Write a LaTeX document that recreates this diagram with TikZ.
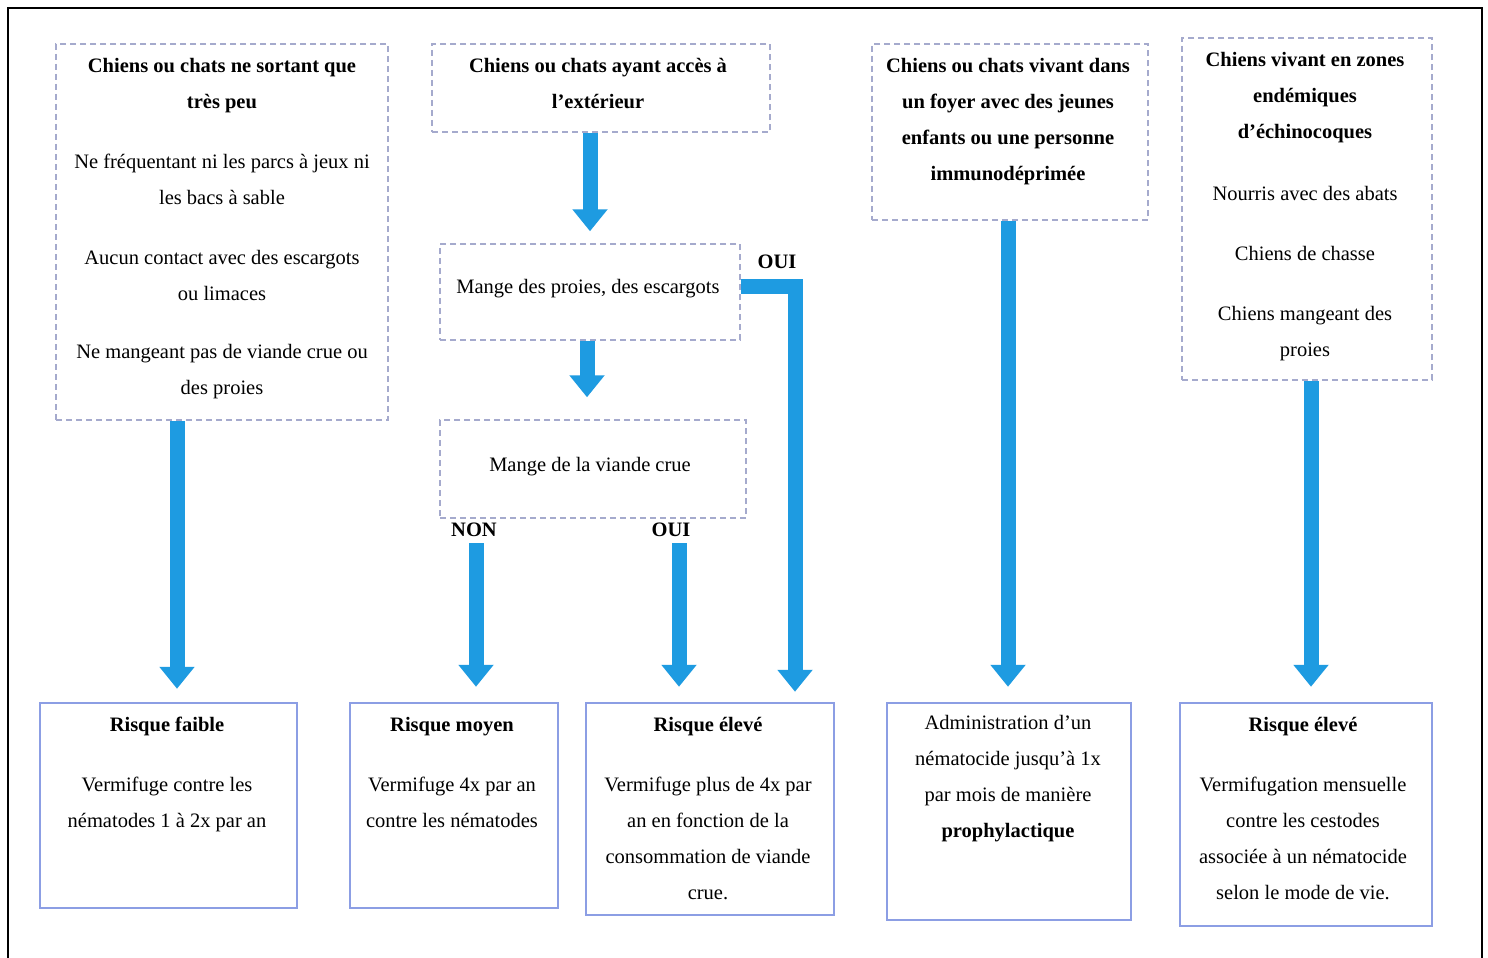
\documentclass[tikz,border=0pt]{standalone}
\usepackage{fontspec}
\setmainfont{Liberation Serif}
\usetikzlibrary{arrows.meta,calc}
\definecolor{arrowblue}{RGB}{30,155,225}
\definecolor{dashgrey}{RGB}{165,170,205}
\definecolor{boxblue}{RGB}{140,158,228}
\tikzset{
  dbox/.style={draw=dashgrey, line width=1.5pt, dash pattern=on 6pt off 4pt, inner sep=0pt},
  sbox/.style={draw=boxblue, line width=2.5pt, inner sep=0pt},
  txt/.style={align=center, inner sep=0pt, anchor=north, font=\fontsize{20.5}{36}\selectfont},
  lbl/.style={inner sep=0pt, font=\fontsize{20.5}{24}\selectfont\bfseries},
  bigarrow/.style={draw=arrowblue, line width=15pt, line join=miter, -{Triangle[width=34pt,length=22pt]}}
}
\begin{document}
\begin{tikzpicture}[x=1pt,y=-1pt]
\useasboundingbox (0,0) rectangle (1488,958);
\fill[white] (0,0) rectangle (1488,958);
\draw[black, line width=1.6pt] (8,958) -- (8,8) -- (1482,8) -- (1482,958);

% top boxes
\node[dbox, minimum width=332pt, minimum height=376pt] (A) at (222,232) {};
\node[txt] (At) at (222,58) {\textbf{Chiens ou chats ne sortant que}\\\textbf{très peu}\\[24pt]Ne fréquentant ni les parcs à jeux ni\\les bacs à sable\\[24pt]Aucun contact avec des escargots\\ou limaces\\[22pt]Ne mangeant pas de viande crue ou\\des proies};

\node[dbox, minimum width=338pt, minimum height=88pt] (B) at (601,88) {};
\node[txt] (Bt) at (598,58) {\textbf{Chiens ou chats ayant accès à}\\\textbf{l'extérieur}};

\node[dbox, minimum width=300pt, minimum height=96pt] (C) at (590,292) {};
\node[txt] (Ct) at (588,279) {Mange des proies, des escargots};

\node[dbox, minimum width=306pt, minimum height=98pt] (D) at (593,469) {};
\node[txt] (Dt) at (590,457) {Mange de la viande crue};

\node[dbox, minimum width=276pt, minimum height=176pt] (E) at (1010,132) {};
\node[txt] (Et) at (1008,58) {\textbf{Chiens ou chats vivant dans}\\\textbf{un foyer avec des jeunes}\\\textbf{enfants ou une personne}\\\textbf{immunodéprimée}};

\node[dbox, minimum width=250pt, minimum height=342pt] (F) at (1307,209) {};
\node[txt] (Ft) at (1305,52) {\textbf{Chiens vivant en zones}\\\textbf{endémiques}\\\textbf{d'échinocoques}\\[26pt]Nourris avec des abats\\[24pt]Chiens de chasse\\[24pt]Chiens mangeant des\\proies};

% bottom boxes
\node[sbox, minimum width=257pt, minimum height=205pt] (G1) at (168.5,805.5) {};
\node[txt] (G1t) at (167,717) {\textbf{Risque faible}\\[24pt]Vermifuge contre les\\nématodes 1 à 2x par an};

\node[sbox, minimum width=208pt, minimum height=205pt] (G2) at (454,805.5) {};
\node[txt] (G2t) at (452,717) {\textbf{Risque moyen}\\[24pt]Vermifuge 4x par an\\contre les nématodes};

\node[sbox, minimum width=248pt, minimum height=212pt] (G3) at (710,809) {};
\node[txt] (G3t) at (708,717) {\textbf{Risque élevé}\\[24pt]Vermifuge plus de 4x par\\an en fonction de la\\consommation de viande\\crue.};

\node[sbox, minimum width=244pt, minimum height=217pt] (G4) at (1009,811.5) {};
\node[txt] (G4t) at (1008,715) {Administration d'un\\nématocide jusqu'à 1x\\par mois de manière\\\textbf{prophylactique}};

\node[sbox, minimum width=252pt, minimum height=223pt] (G5) at (1306,814.5) {};
\node[txt] (G5t) at (1303,717) {\textbf{Risque élevé}\\[24pt]Vermifugation mensuelle\\contre les cestodes\\associée à un nématocide\\selon le mode de vie.};

% labels
\node[lbl] (oui1) at (777,262) {OUI};
\node[lbl] (non) at (474,530) {NON};
\node[lbl] (oui2) at (671,530) {OUI};

% arrows
\draw[bigarrow, shorten >=13pt] ([xshift=-45pt]A.south) -- ([xshift=-45pt]A.south |- G1.north);
\draw[bigarrow, shorten >=12pt] ([xshift=-11pt]B.south) -- ([xshift=-11pt]B.south |- C.north);
\draw[bigarrow, shorten >=22pt] ([xshift=-3pt]C.south) -- ([xshift=-3pt]C.south |- D.north);
\draw[bigarrow, shorten <=6pt, shorten >=15pt] ([xshift=2pt]non.south) -- ([xshift=2pt]non.south |- G2.north);
\draw[bigarrow, shorten <=6pt, shorten >=15pt] ([xshift=8pt]oui2.south) -- ([xshift=8pt]oui2.south |- G3.north);
\draw[bigarrow, shorten >=10pt] ([yshift=6pt]C.east) -| ([xshift=85pt]G3.north);
\draw[bigarrow, shorten >=15pt] ([xshift=-2pt]E.south) -- ([xshift=-2pt]E.south |- G4.north);
\draw[bigarrow, shorten >=15pt] ([xshift=4pt]F.south) -- ([xshift=4pt]F.south |- G5.north);
\end{tikzpicture}
\end{document}
